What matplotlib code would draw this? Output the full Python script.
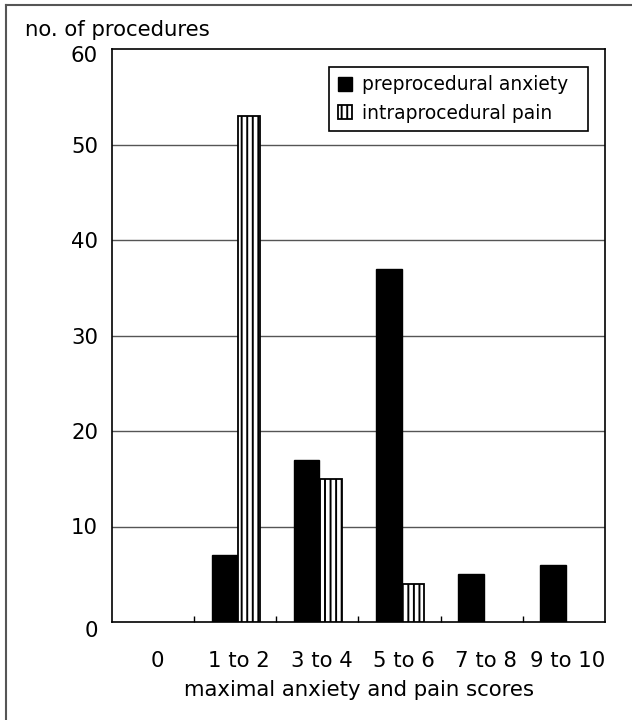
import matplotlib
matplotlib.use("Agg")
import matplotlib.pyplot as plt
from matplotlib.lines import Line2D
import matplotlib.transforms as mtransforms
import numpy as np

categories = ["0", "1 to 2", "3 to 4", "5 to 6", "7 to 8", "9 to 10"]
anxiety = [0, 7, 17, 37, 5, 6]
pain = [0, 53, 15, 4, 0, 0]
yticks = [0, 10, 20, 30, 40, 50, 60]

plt.rcParams['font.family'] = ['DejaVu Sans']
plt.rcParams['hatch.linewidth'] = 1.4
plt.rcParams['hatch.color'] = 'black'

fig = plt.figure(figsize=(6.32, 7.20), dpi=100)
ax = fig.add_axes([112/632, 1-622/720, (605-112)/632, (622-49)/720])

x = np.arange(len(categories))
anx_h = [v if v else np.nan for v in anxiety]
pain_h = [v if v else np.nan for v in pain]
ax.bar(x - 0.13, anx_h, width=0.31, color='black', edgecolor='black',
       linewidth=1, label='preprocedural anxiety  ', zorder=3)
ax.bar(x + 0.165, pain_h, width=0.27, color='white', edgecolor='black',
       hatch='|||', linewidth=1.3, label='intraprocedural pain', zorder=3)

ax.set_xlim(-0.5, 5.5)
ax.set_ylim(0, 60)
ax.set_yticks(yticks)
ax.set_yticklabels([str(v) for v in yticks], fontsize=15.3)
ax.tick_params(axis='y', length=0, pad=10)
ax.set_xticks(x)
ax.set_xticklabels(categories, fontsize=15.3)
ax.set_xticks(np.arange(0.5, 5.5, 1.0), minor=True)
ax.tick_params(axis='x', which='major', length=0, pad=21)
ax.tick_params(axis='x', which='minor', direction='in', length=4.5, width=1)

# small offsets of labels as in the reference
ylabels = ax.get_yticklabels()
ylabels[0].set_transform(ylabels[0].get_transform() +
                         mtransforms.ScaledTranslation(0, -7/100, fig.dpi_scale_trans))
ylabels[-1].set_transform(ylabels[-1].get_transform() +
                          mtransforms.ScaledTranslation(0, -5/100, fig.dpi_scale_trans))
for lab in ax.get_xticklabels():
    lab.set_transform(lab.get_transform() +
                      mtransforms.ScaledTranslation(4/100, 0, fig.dpi_scale_trans))

for v in yticks[1:-1]:
    ax.axhline(v, color='#555555', linewidth=1.0, zorder=1)

for s in ax.spines.values():
    s.set_linewidth(1.2)
    s.set_color('black')

ax.set_xlabel("maximal anxiety and pain scores", fontsize=15.3, labelpad=6)

leg = ax.legend(loc='upper right', bbox_to_anchor=((588-112)/493, (622-67)/573),
                borderaxespad=0, fontsize=13.4, fancybox=False, framealpha=1,
                edgecolor='black', handlelength=0.8, handleheight=0.8,
                handletextpad=0.5, borderpad=0.45, labelspacing=0.5)
leg.get_frame().set_linewidth(1.2)

fig.text(25/632, 1-30/720, "no. of procedures", fontsize=15.3, ha='left', va='center')

# outer frame lines (top and left)
fig.add_artist(Line2D([6/632, 6/632], [0, 1-5/720], transform=fig.transFigure,
                      color='#555555', linewidth=1.5))
fig.add_artist(Line2D([6/632, 1], [1-5/720, 1-5/720], transform=fig.transFigure,
                      color='#555555', linewidth=1.5))

fig.savefig("out.png", dpi=100)
